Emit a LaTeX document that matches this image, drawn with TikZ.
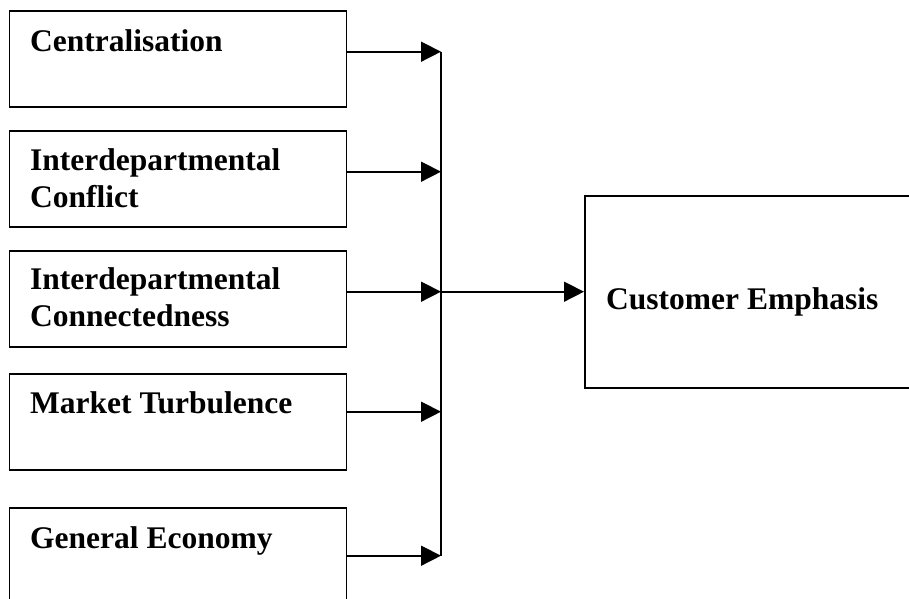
\documentclass[tikz,border=0pt]{standalone}
\usepackage{fontspec}
\setmainfont{Liberation Serif}
\usetikzlibrary{arrows.meta}
\begin{document}
\begin{tikzpicture}[x=1pt,y=-1pt,
  box/.style={draw,line width=1.8pt,rectangle,inner sep=0pt,anchor=north west},
  label/.style={anchor=base west,align=left,inner sep=0pt,
    font=\bfseries\fontsize{31.5}{37.5}\selectfont},
  link/.style={line width=1.6pt},
  arr/.style={line width=1.6pt,-{Triangle[length=20pt,width=20pt]}}]
\clip (0,0) rectangle (909,598);
\fill[white] (0,0) rectangle (909,598);
% input factors
\node[box,minimum width=337pt,minimum height=96pt] (b1) at (8.5,10) {};
\node[box,minimum width=337pt,minimum height=96pt] (b2) at (8.5,130) {};
\node[box,minimum width=337pt,minimum height=96pt] (b3) at (8.5,250) {};
\node[box,minimum width=337pt,minimum height=96pt] (b4) at (8.5,373) {};
\node[box,minimum width=337pt,minimum height=110pt] (b5) at (8.5,507) {};
% text nodes sit on the baseline of their last line
\node[label] (t1) at (30,51.5) {Centralisation};
\node[label] (t2) at (30,207.5) {Interdepartmental\\Conflict};
\node[label] (t3) at (30,326.5) {Interdepartmental\\Connectedness};
\node[label] (t4) at (30,413) {Market Turbulence};
\node[label] (t5) at (30,548) {General Economy};
% outcome
\node[box,minimum width=340pt,minimum height=192pt] (out) at (584,195) {};
\node[label] (tout) at (606,309) {Customer Emphasis};
% collector line
\coordinate (j1) at (441,51.7);
\coordinate (j2) at (441,171.7);
\coordinate (j3) at (441,291.7);
\coordinate (j4) at (441,411.7);
\coordinate (j5) at (441,555.7);
\draw[link] (j1) -- (j5);
\draw[arr] (b1.east |- j1) -- (j1);
\draw[arr] (b2.east |- j2) -- (j2);
\draw[arr] (b3.east |- j3) -- (j3);
\draw[arr] (b4.east |- j4) -- (j4);
\draw[arr] (b5.north east |- j5) -- (j5);
\draw[arr] (j3) -- (out.west |- j3);
\end{tikzpicture}
\end{document}
